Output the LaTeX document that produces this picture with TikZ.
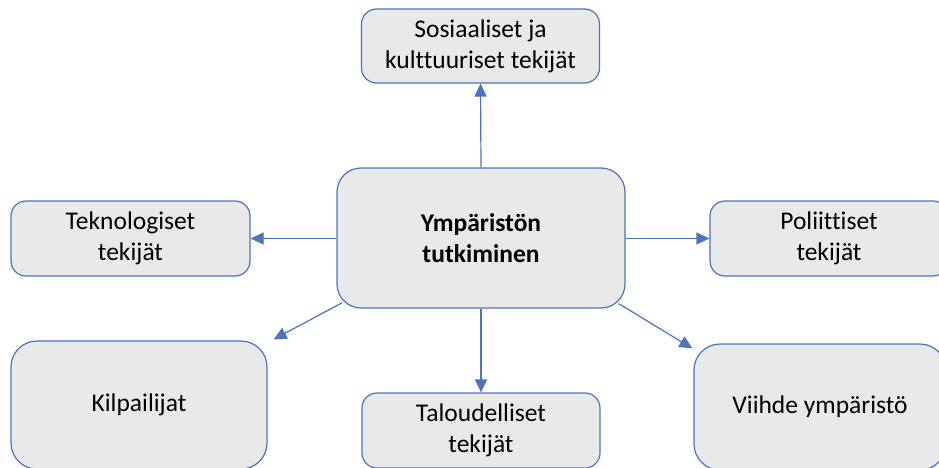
\documentclass[tikz,border=0pt]{standalone}
\usepackage{fontspec}
\setmainfont{Carlito}[Ligatures=NoCommon]
\usetikzlibrary{arrows.meta}
\definecolor{bordblue}{HTML}{4A74C0}
\definecolor{boxfill}{HTML}{E9E9E9}
\begin{document}
\begin{tikzpicture}[x=1pt,y=-1pt,
  box/.style={draw=bordblue, fill=boxfill, line width=1.2pt, rounded corners=#1,
    align=center, inner sep=0pt, font=\fontsize{25.5}{31}\selectfont, text=black},
  box/.default=15pt,
  arr/.style={draw=bordblue, line width=1.2pt, -{Triangle[length=13pt,width=12pt]}}]
\clip (0,0) rectangle (939,468);
\fill[white] (0,0) rectangle (939,468);
\node[box=24pt, minimum width=288pt, minimum height=140pt, font=\fontsize{25.5}{31}\selectfont\bfseries] (c) at (481,238) {Ympäristön\\tutkiminen};
\node[box, minimum width=238pt, minimum height=74pt] (top) at (480.5,46) {Sosiaaliset ja\\kulttuuriset tekijät};
\node[box, minimum width=239pt, minimum height=75pt] (left) at (130.5,238.5) {Teknologiset\\tekijät};
\node[box, minimum width=238pt, minimum height=75pt] (right) at (829,238.5) {Poliittiset\\tekijät};
\node[box=26pt, minimum width=256pt, minimum height=128pt] (kil) at (139,405) {Kilpailijat};
\node[box, minimum width=238pt, minimum height=75pt] (tal) at (481,430.5) {Taloudelliset\\tekijät};
\node[box=26pt, minimum width=252pt, minimum height=126pt] (vii) at (820,407) {Viihde ympäristö};
\draw[arr] (c.north) -- (top.south);
\draw[arr] (c.west |- left.east) -- (left.east);
\draw[arr] (c.east |- right.west) -- (right.west);
\draw[arr] (c.south) -- (tal.north);
\draw[arr] ([shift={(6,-6)}]c.south west) -- ([shift={(6,-1)}]kil.north east);
\draw[arr] ([shift={(-7,-5)}]c.south east) -- ([shift={(-1,5)}]vii.north west);
\end{tikzpicture}
\end{document}
